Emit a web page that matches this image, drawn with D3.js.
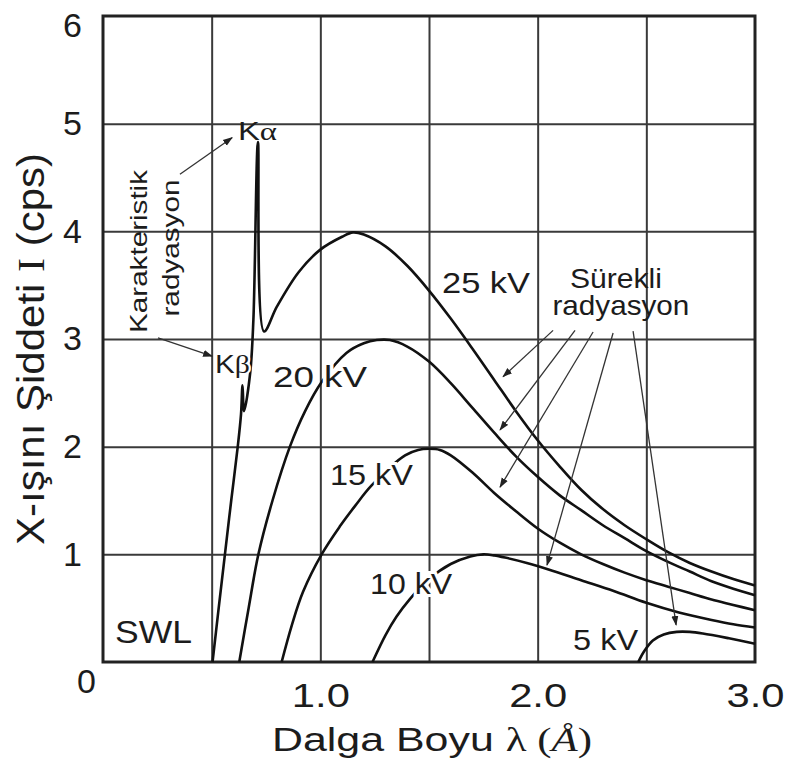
<!DOCTYPE html>
<html>
<head>
<meta charset="utf-8">
<script src="https://cdn.jsdelivr.net/npm/d3@7"></script>
<style>
body{margin:0;background:#fff;}
svg{display:block;}
</style>
</head>
<body>
<div id="chart"></div>
<script>
// eksen değerleri
var lambdaTicks = [0, 1, 2, 3];
var lambdaTickLabels = ["0", "1.0", "2.0", "3.0"];
var intensityTicks = [1, 2, 3, 4, 5, 6];
var gridLambda = [0.5, 1, 1.5, 2, 2.5];
var gridIntensity = [1, 2, 3, 4, 5];

// eğriler [lambda, I]
var kv25 = [[0.504,0],[0.53,0.46],[0.561,1.0],[0.59,1.5],[0.62,2.0],[0.635,2.3],[0.642,2.57],[0.649,2.33],
  [0.677,2.68],[0.692,3.18],[0.713,4.83],[0.741,3.07],[0.80,3.30],[0.90,3.62],[1.0,3.83],[1.10,3.95],
  [1.15,3.99],[1.20,3.97],[1.30,3.86],[1.40,3.68],[1.50,3.45],[1.60,3.19],[1.70,2.91],[1.80,2.62],
  [1.90,2.33],[2.0,2.06],[2.10,1.82],[2.20,1.60],[2.30,1.42],[2.40,1.27],[2.50,1.14],[2.60,1.02],
  [2.70,0.92],[2.80,0.84],[2.90,0.77],[3.0,0.71]];
var kv20 = [[0.627,0],[0.67,0.5],[0.715,1.0],[0.78,1.5],[0.86,2.0],[0.93,2.33],[1.006,2.60],[1.12,2.87],
  [1.20,2.96],[1.26,2.99],[1.32,2.99],[1.40,2.93],[1.50,2.79],[1.60,2.59],[1.70,2.36],[1.80,2.13],
  [1.90,1.91],[2.0,1.72],[2.10,1.55],[2.20,1.41],[2.30,1.27],[2.40,1.15],[2.50,1.03],[2.60,0.93],
  [2.70,0.84],[2.80,0.75],[2.90,0.68],[3.0,0.62]];
var kv15 = [[0.822,0],[0.87,0.35],[0.92,0.65],[1.006,1.0],[1.09,1.26],[1.16,1.45],[1.236,1.64],[1.39,1.92],
  [1.45,1.97],[1.50,1.98],[1.55,1.97],[1.60,1.92],[1.70,1.76],[1.80,1.57],[1.90,1.40],[2.0,1.24],
  [2.10,1.11],[2.20,1.00],[2.30,0.91],[2.40,0.83],[2.50,0.76],[2.60,0.70],[2.70,0.64],[2.80,0.58],
  [2.90,0.53],[3.0,0.48]];
var kv10 = [[1.24,0],[1.30,0.25],[1.35,0.42],[1.41,0.58],[1.50,0.77],[1.60,0.91],[1.69,0.98],[1.75,1.0],
  [1.80,0.99],[1.85,0.97],[1.95,0.92],[2.05,0.86],[2.20,0.76],[2.35,0.66],[2.50,0.55],[2.65,0.46],
  [2.80,0.39],[2.90,0.35],[3.0,0.32]];
var kv5 = [[2.463,0],[2.49,0.10],[2.53,0.20],[2.58,0.255],[2.64,0.28],[2.70,0.28],[2.76,0.265],[2.88,0.22],[3.0,0.17]];
var series = [kv25, kv20, kv15, kv10, kv5];

// etiketler (lambda, I konumu)
var kvLabels = ["25 kV", "20 kV", "15 kV", "10 kV", "5 kV", "SWL"];
var kvLabelPos = [[1.560,3.427],[0.782,2.554],[1.044,1.644],[1.229,0.632],[2.163,0.111],[0.055,0.176]];
var kvLabelLen = [88, 94, 83, 82, 65, 77];

// sürekli radyasyon okları
var contFrom = [[2.071,3.08],[2.172,3.08],[2.255,3.065],[2.347,3.056],[2.439,3.074]];
var contTo = [[1.841,2.65],[1.827,2.155],[1.827,1.625],[2.043,0.90],[2.637,0.344]];
// karakteristik radyasyon okları
var charFrom = [[0.354,4.53],[0.253,3.01]];
var charTo = [[0.594,4.87],[0.502,2.84]];

var W = 785, H = 767;
var SANS = "'Liberation Sans', Arial, Helvetica, sans-serif";
var SERIF = "'Liberation Serif', 'Times New Roman', serif";
var INK = "#1c1c1c";

var svg = d3.select("#chart").append("svg")
  .attr("width", W).attr("height", H)
  .style("font-family", SANS);

var x = d3.scaleLinear().domain([0, 3]).range([103, 755]);
var y = d3.scaleLinear().domain([0, 6]).range([662, 16]);

// ızgara
var gx = svg.append("g").attr("transform", "translate(0," + y(0) + ")")
  .call(d3.axisBottom(x).tickValues(gridLambda).tickSize(-(y(0) - y(6))).tickFormat(""));
gx.select(".domain").remove();
gx.selectAll("line").attr("stroke", "#3a3a3a").attr("stroke-width", 2);

var gy = svg.append("g").attr("transform", "translate(" + x(0) + ",0)")
  .call(d3.axisLeft(y).tickValues(gridIntensity).tickSize(-(x(3) - x(0))).tickFormat(""));
gy.select(".domain").remove();
gy.selectAll("line").attr("stroke", "#3a3a3a").attr("stroke-width", 2);

svg.append("rect")
  .attr("x", x(0)).attr("y", y(6))
  .attr("width", x(3) - x(0)).attr("height", y(0) - y(6))
  .attr("fill", "none").attr("stroke", "#222").attr("stroke-width", 3);

// eksen yazıları
var xa = svg.append("g").attr("transform", "translate(0," + y(0) + ")")
  .call(d3.axisBottom(x).tickValues(lambdaTicks).tickSize(0).tickPadding(21)
    .tickFormat(function(d, i){ return lambdaTickLabels[i]; }));
xa.attr("font-size", 34).attr("font-family", SANS);
xa.select(".domain").remove();
xa.selectAll("text").attr("fill", INK)
  .attr("textLength", function(d){ return d === 0 ? null : 58; })
  .attr("lengthAdjust", "spacingAndGlyphs");
xa.selectAll(".tick").filter(function(d){ return d === 0; })
  .select("text").attr("x", -17).attr("y", 7);

var ya = svg.append("g").attr("transform", "translate(" + x(0) + ",0)")
  .call(d3.axisLeft(y).tickValues(intensityTicks).tickSize(0).tickPadding(21)
    .tickFormat(d3.format("d")));
ya.attr("font-size", 34).attr("font-family", SANS);
ya.select(".domain").remove();
ya.selectAll("text").attr("fill", INK);
ya.selectAll(".tick").filter(function(d){ return d === 6; })
  .select("text").attr("y", 10);

// eksen başlıkları
var xt = svg.append("text")
  .attr("x", 272).attr("y", 751)
  .attr("font-size", 33).attr("fill", INK)
  .attr("textLength", 320).attr("lengthAdjust", "spacingAndGlyphs");
xt.append("tspan").text("Dalga Boyu ");
xt.append("tspan").attr("font-family", SERIF).text("λ (");
xt.append("tspan").attr("font-family", SERIF).attr("font-style", "italic").text("Å");
xt.append("tspan").attr("font-family", SERIF).text(")");

var yt = svg.append("text")
  .attr("transform", "translate(44,349) rotate(-90)")
  .attr("text-anchor", "middle")
  .attr("font-size", 38).attr("fill", INK)
  .attr("textLength", 392).attr("lengthAdjust", "spacingAndGlyphs");
yt.append("tspan").text("X-ışını Şiddeti ");
yt.append("tspan").attr("font-family", SERIF).text("I");
yt.append("tspan").text(" (cps)");

// eğriler
var line = d3.line()
  .x(function(d){ return x(d[0]); })
  .y(function(d){ return y(d[1]); })
  .curve(d3.curveCatmullRom.alpha(0.5));

svg.append("g").selectAll("path")
  .data(series)
  .enter()
  .append("path")
  .attr("d", line)
  .attr("fill", "none")
  .attr("stroke", "#111")
  .attr("stroke-width", 2.6)
  .attr("stroke-linejoin", "round");

// oklar
var defs = svg.append("defs");
defs.append("marker")
  .attr("id", "head")
  .attr("viewBox", "0 0 10 8")
  .attr("refX", 9).attr("refY", 4)
  .attr("markerWidth", 10).attr("markerHeight", 8)
  .attr("markerUnits", "userSpaceOnUse")
  .attr("orient", "auto")
  .append("path").attr("d", "M0,0.5 L10,4 L0,7.5 Z").attr("fill", "#222");

function arrows(from, to){
  svg.append("g").selectAll("line")
    .data(from)
    .enter()
    .append("line")
    .attr("x1", function(d){ return x(d[0]); })
    .attr("y1", function(d){ return y(d[1]); })
    .attr("x2", function(d, i){ return x(to[i][0]); })
    .attr("y2", function(d, i){ return y(to[i][1]); })
    .attr("stroke", "#333")
    .attr("stroke-width", 1.3)
    .attr("marker-end", "url(#head)");
}
arrows(contFrom, contTo);
arrows(charFrom, charTo);

// kV etiketleri
svg.append("g").selectAll("text")
  .data(kvLabels)
  .enter()
  .append("text")
  .attr("x", function(d, i){ return x(kvLabelPos[i][0]); })
  .attr("y", function(d, i){ return y(kvLabelPos[i][1]); })
  .attr("font-size", function(d, i){ return i === 5 ? 31 : 30; })
  .attr("fill", INK)
  .attr("stroke", "#fff").attr("stroke-width", 6)
  .attr("paint-order", "stroke")
  .attr("textLength", function(d, i){ return kvLabelLen[i]; })
  .attr("lengthAdjust", "spacingAndGlyphs")
  .text(function(d){ return d; });

svg.append("text")
  .attr("x", x(2.360)).attr("y", y(3.470))
  .attr("text-anchor", "middle").attr("font-size", 28).attr("fill", INK)
  .attr("textLength", 92).attr("lengthAdjust", "spacingAndGlyphs")
  .text("Sürekli");
svg.append("text")
  .attr("x", x(2.383)).attr("y", y(3.223))
  .attr("text-anchor", "middle").attr("font-size", 28).attr("fill", INK)
  .attr("textLength", 137).attr("lengthAdjust", "spacingAndGlyphs")
  .text("radyasyon");

// karakteristik radyasyon
svg.append("text")
  .attr("transform", "translate(" + x(0.2025) + "," + y(3.813) + ") rotate(-90)")
  .attr("text-anchor", "middle").attr("font-size", 24).attr("fill", INK)
  .attr("textLength", 163).attr("lengthAdjust", "spacingAndGlyphs")
  .text("Karakteristik");
svg.append("text")
  .attr("transform", "translate(" + x(0.350) + "," + y(3.845) + ") rotate(-90)")
  .attr("text-anchor", "middle").attr("font-size", 24).attr("fill", INK)
  .attr("textLength", 137).attr("lengthAdjust", "spacingAndGlyphs")
  .text("radyasyon");

var ka = svg.append("text").attr("x", x(0.621)).attr("y", y(4.848))
  .attr("font-size", 26).attr("fill", INK)
  .attr("textLength", 39).attr("lengthAdjust", "spacingAndGlyphs");
ka.append("tspan").text("K");
ka.append("tspan").attr("font-family", SERIF).text("α");

var kb = svg.append("text").attr("x", x(0.515)).attr("y", y(2.684))
  .attr("font-size", 26).attr("fill", INK)
  .attr("textLength", 35).attr("lengthAdjust", "spacingAndGlyphs")
  .attr("stroke", "#fff").attr("stroke-width", 4).attr("paint-order", "stroke");
kb.append("tspan").text("K");
kb.append("tspan").attr("font-family", SERIF).text("β");
</script>
</body>
</html>
